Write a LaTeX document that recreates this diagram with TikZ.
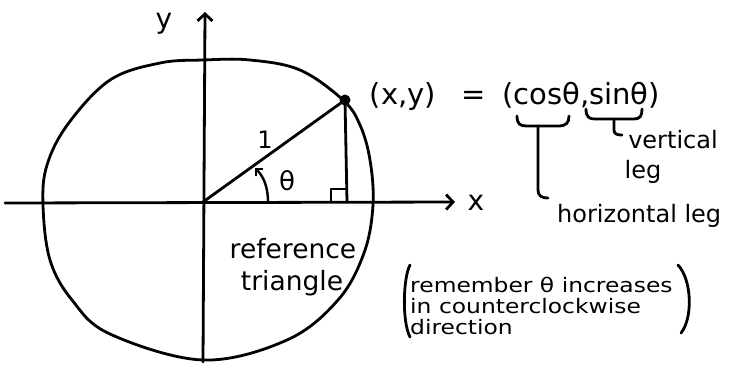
\documentclass[tikz,border=0pt]{standalone}
\usepackage{fontspec}
\setmainfont{DejaVu Sans}
\usetikzlibrary{arrows.meta}
\begin{document}
\begin{tikzpicture}[x=1pt,y=-1pt,
  ink/.style={line width=2.8pt, line cap=round, line join=round},
  barb/.style={-{Straight Barb[length=7pt,width=15pt,line width=2.8pt]}},
  smallbarb/.style={-{Straight Barb[length=5pt,width=10pt,line width=2.4pt]}},
  txt/.style={inner sep=0pt, anchor=base, font=\fontsize{24}{24}\selectfont},
  eqtxt/.style={inner sep=0pt, anchor=base, font=\fontsize{29}{29}\selectfont},
  notetxt/.style={inner sep=0pt, anchor=base west, xscale=1.17, font=\fontsize{20}{20}\selectfont}]
\useasboundingbox (0,0) rectangle (735,368);
\fill[white] (0,0) rectangle (735,368);
% key points
\coordinate (O) at (203,202);
\coordinate (P) at (345,100);
\coordinate (F) at (347,202);
\coordinate (xl) at (5,203);
\coordinate (xr) at (455,202);
\coordinate (yb) at (203,362);
\coordinate (yt) at (205,12);
% hand-drawn unit circle
\draw[ink] plot[smooth cycle, tension=0.6] coordinates {
  (203,60) (250,60) (300,70) (343,100) (360,125) (370,160) (373,205)
  (364,253) (338,300) (287,340) (203,360) (110,334) (72,300) (50,260)
  (43,205) (47,165) (68,124) (110,80) (160,63)};
% axes
\draw[ink,barb] (xl) -- (xr);
\draw[ink,barb] (yb) -- (yt);
% reference triangle
\draw[ink] (O) -- (P) -- (F);
\draw[ink,line width=2.3pt] (331,202) -- (331,189) -- (346,189);
\fill (P) circle (5.5pt);
% angle arc
\coordinate (a1) at (268,202);
\coordinate (a2) at (255,168);
\draw[ink,line width=2.4pt,smallbarb] (a1) .. controls (268,186) and (263,176) .. (a2);
% labels
\node[txt,font=\fontsize{28}{28}\selectfont] (ylab) at (164,28) {y};
\node[txt,font=\fontsize{28}{28}\selectfont] (xlab) at (476,210) {x};
\node[txt,font=\fontsize{24}{24}\selectfont] (one) at (265,148) {1};
\node[txt,font=\fontsize{26}{26}\selectfont] (theta) at (287,190) {θ};
\node[txt,font=\fontsize{26.5}{26.5}\selectfont] (ref1) at (293,258) {reference};
\node[txt,font=\fontsize{26.5}{26.5}\selectfont] (ref2) at (292,290) {triangle};
% equation
\node[eqtxt] (xy) at (403,104) {(x,y)};
\node[eqtxt] (eq) at (474,104) {=};
\node[eqtxt] (cs) at (581,104) {(cosθ,sinθ)};
% braces
\draw[ink] (517,116) .. controls (517,124) and (520,126) .. (527,126) -- (558,126)
  .. controls (566,126) and (569,123) .. (569,116);
\draw[ink] (586,109) .. controls (586,117) and (589,119) .. (595,119) -- (634,119)
  .. controls (640,119) and (642,116) .. (642,109);
\node[txt] (vert) at (673,148) {vertical};
\node[txt] (vleg) at (643,178) {leg};
\node[txt,anchor=base west] (hleg) at (557,222) {horizontal leg};
\coordinate (cb) at (538,126);
\coordinate (sb) at (614,119);
\draw[ink] (cb) -- (538,190) .. controls (538,196) and (542,198) .. (548,198);
\draw[ink] (sb) -- (614,130) .. controls (614,134) and (617,135) .. (622,135);
% note
\node[notetxt] (n1) at (410,292) {remember θ increases};
\node[notetxt] (n2) at (410,313) {in counterclockwise};
\node[notetxt] (n3) at (410,334) {direction};
\draw[ink] (410,265) .. controls (403,278) and (402,322) .. (410,337);
\draw[ink] (678,265) .. controls (692,280) and (693,318) .. (681,333);
\end{tikzpicture}
\end{document}
